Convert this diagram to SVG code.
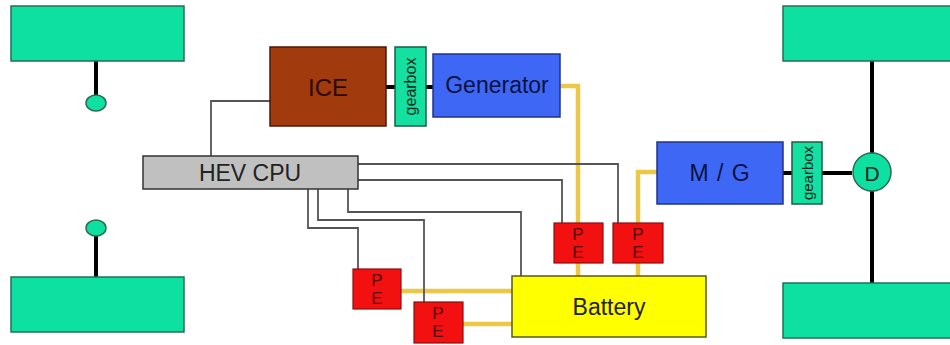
<svg xmlns="http://www.w3.org/2000/svg" width="950" height="345" viewBox="0 0 950 345">
<style>
.wheel{fill:#0ee0a2;stroke:#2b6b55;stroke-width:1.5}
.gb{fill:#14e0a2;stroke:#1f5a45;stroke-width:1.5}
.blue{fill:#3f67f5;stroke:#22338a;stroke-width:1.5}
.pe{fill:#f21010;stroke:#8a1010;stroke-width:1.2}
.t{font-family:"Liberation Sans",Arial,sans-serif;text-anchor:middle;dominant-baseline:central}
.pt{font-family:"Liberation Sans",Arial,sans-serif;text-anchor:middle;dominant-baseline:central;font-size:17px;fill:#5a0000}
.gt{font-family:"Liberation Sans",Arial,sans-serif;text-anchor:middle;dominant-baseline:central;font-size:16px;fill:#0a2a20}
.shaft{stroke:#000;stroke-width:4;fill:none}
.ctrl{stroke:#555;stroke-width:1.8;fill:none}
.pwr{stroke:#ecc84a;stroke-width:4.5;fill:none}
</style>
<rect width="950" height="345" fill="#fff"/>
<g id="connectors">
  <path class="shaft" d="M96 61V96M96 236V277M872 61V283M386 87H395M426 87H433M783 173H792M822 173H852"/>
  <path class="pwr" d="M560 86H578V223M578 263V276M657 172H638V223M638 263V276M401 291H512M463 324H512"/>
  <path class="ctrl" d="M211 156V101H270M358 164H618V223M358 180H562V223M348 189V212H521V276M318 189V220H424V302M308 189V228H358V269"/>
</g>
<g id="wheel-fl"><rect class="wheel" x="11" y="6" width="173" height="55"/></g>
<g id="wheel-rl"><rect class="wheel" x="11" y="277" width="173" height="55"/></g>
<g id="wheel-fr"><rect class="wheel" x="783" y="6" width="175" height="55"/></g>
<g id="wheel-rr"><rect class="wheel" x="783" y="283" width="175" height="55"/></g>
<g id="joint-top"><ellipse class="wheel" cx="96" cy="103" rx="10" ry="8"/></g>
<g id="joint-bottom"><ellipse class="wheel" cx="96" cy="228" rx="10" ry="8"/></g>
<g id="ice"><rect x="270" y="47" width="116" height="79" fill="#a13a0c" stroke="#4a1a08" stroke-width="1.5"/><text class="t" x="328" y="87" font-size="24" fill="#2a0a00">ICE</text></g>
<g id="gearbox1"><rect class="gb" x="395" y="47" width="31" height="79"/><text class="gt" transform="translate(410.5 86.5) rotate(-90)">gearbox</text></g>
<g id="generator"><rect class="blue" x="433" y="54" width="127" height="63"/><text class="t" x="497" y="85" font-size="23" fill="#0a1240">Generator</text></g>
<g id="cpu"><rect x="143" y="156" width="215" height="33" fill="#c0c0c0" stroke="#333" stroke-width="1.5"/><text class="t" x="250" y="173" font-size="23" fill="#222">HEV CPU</text></g>
<g id="mg"><rect class="blue" x="657" y="142" width="126" height="62"/><text class="t" x="720" y="173" font-size="23" letter-spacing="1" fill="#0a1240">M / G</text></g>
<g id="gearbox2"><rect class="gb" x="792" y="142" width="30" height="62"/><text class="gt" transform="translate(807 173) rotate(-90)" style="font-size:15px">gearbox</text></g>
<g id="diff"><circle class="wheel" cx="872" cy="172" r="19" stroke-width="2"/><text class="t" x="872" y="173" font-size="21" fill="#0a2a20">D</text></g>
<g id="pe1"><rect class="pe" x="353" y="269" width="48" height="40"/><text class="pt" x="377" y="280">P</text><text class="pt" x="377" y="298">E</text></g>
<g id="pe2"><rect class="pe" x="414" y="302" width="49" height="41"/><text class="pt" x="438" y="313">P</text><text class="pt" x="438" y="331">E</text></g>
<g id="pe3"><rect class="pe" x="554" y="223" width="49" height="40"/><text class="pt" x="578" y="234">P</text><text class="pt" x="578" y="252">E</text></g>
<g id="pe4"><rect class="pe" x="613" y="223" width="50" height="40"/><text class="pt" x="638" y="234">P</text><text class="pt" x="638" y="252">E</text></g>
<g id="battery"><rect x="512" y="276" width="194" height="61" fill="#ffff00" stroke="#5a5a10" stroke-width="1.5"/><text class="t" x="609" y="307" font-size="23" fill="#222">Battery</text></g>
</svg>
